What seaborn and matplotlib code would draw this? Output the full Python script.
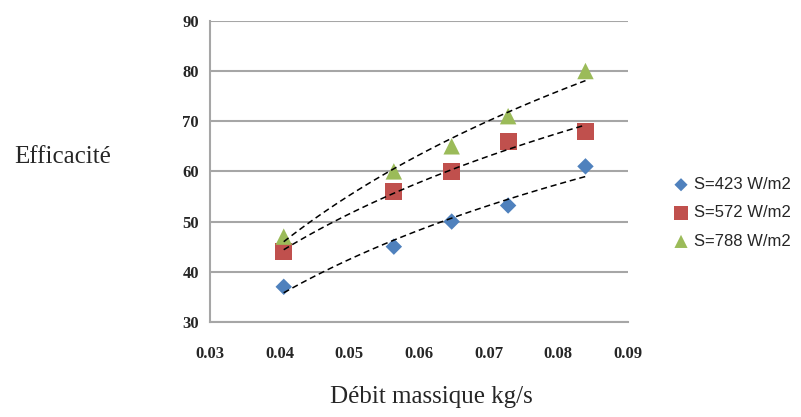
import numpy as np
import pandas as pd
import seaborn as sns
import matplotlib.pyplot as plt

# debit massique (kg/s) and efficacite for three irradiance levels
debit = [0.0406, 0.0564, 0.0647, 0.0728, 0.0839]
eff_423 = [37, 45, 50, 53.2, 61]
eff_572 = [44, 56, 60, 66, 68]
eff_788 = [47, 60, 65, 71, 80]
labels = ["S=423 W/m2", "S=572 W/m2", "S=788 W/m2"]

colors = ["#4F81BD", "#C0504D", "#9BBB59"]
markers = ["D", "s", "^"]
sizes = [70, 150, 140]

sns.set_style("white")
plt.rcParams['font.family'] = ['Liberation Serif', 'DejaVu Serif']

df = pd.DataFrame({
    "debit": debit * 3,
    "eff": eff_423 + eff_572 + eff_788,
    "serie": [labels[0]] * 5 + [labels[1]] * 5 + [labels[2]] * 5,
})

fig = plt.figure(figsize=(8.01, 4.17), dpi=100)
ax = fig.add_axes([0.262, 0.228, 0.522, 0.722])

for lab, col, mk, sz in zip(labels, colors, markers, sizes):
    sub = df[df["serie"] == lab]
    sns.scatterplot(data=sub, x="debit", y="eff", color=col, marker=mk, s=sz,
                    edgecolor="none", label=lab, ax=ax, zorder=3)
    # logarithmic trendline
    a, b = np.polyfit(np.log(sub["debit"]), sub["eff"], 1)
    xs = np.linspace(sub["debit"].min(), sub["debit"].max(), 100)
    ax.plot(xs, a * np.log(xs) + b, color="black", lw=1.1, ls=(0, (4, 2.5)), zorder=4)

ax.set_xlim(0.03, 0.09)
ax.set_ylim(30, 90)
ax.set_xticks(np.arange(0.03, 0.091, 0.01))
ax.set_yticks(range(30, 91, 10))
ax.set_xticklabels([f"{v:.2f}" for v in np.arange(0.03, 0.091, 0.01)])
ax.yaxis.grid(True, color="#A6A6A6", lw=1.5)
ax.set_axisbelow(True)
for s in ["top", "right"]:
    ax.spines[s].set_visible(False)
for s in ["left", "bottom"]:
    ax.spines[s].set_color("#A6A6A6")
    ax.spines[s].set_linewidth(1.5)
ax.tick_params(axis="both", length=0, labelsize=12)
ax.tick_params(axis="x", pad=17)
ax.tick_params(axis="y", pad=8)
for t in ax.get_xticklabels() + ax.get_yticklabels():
    t.set_fontweight("bold")

ax.set_xlabel("")
ax.set_ylabel("")
fig.text(0.078, 0.623, "Efficacité", fontsize=18, ha="center", va="center")
fig.text(0.538, 0.048, "Débit massique kg/s", fontsize=18, ha="center", va="center")

leg = ax.legend(loc="center left", bbox_to_anchor=(1.075, 0.362), frameon=False,
                prop={"family": "Liberation Sans", "size": 12},
                handlelength=0.8, handletextpad=0.35, labelspacing=0.8,
                markerscale=0.8)

fig.savefig("out.png", dpi=100)
